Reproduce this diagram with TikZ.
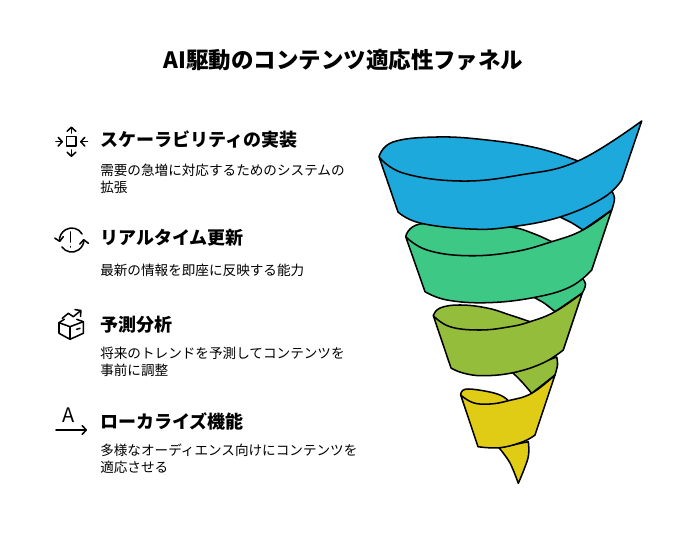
\documentclass[tikz,border=0pt]{standalone}
\usepackage{fontspec}
\setmainfont{Noto Sans CJK JP}
\usetikzlibrary{arrows.meta}
\definecolor{funnelblue}{HTML}{1EA9DC}
\definecolor{funnelgreen}{HTML}{3EC886}
\definecolor{funnelolive}{HTML}{94BD3B}
\definecolor{funnelyellow}{HTML}{E0CC14}
\tikzset{
  band/.style={draw=black,line width=1.15pt,line join=round},
  icon/.style={draw=black,line width=1.15pt,line cap=round,line join=round},
  tip/.style={-{Straight Barb[length=3pt,width=6.5pt,round]}},
  titletext/.style={anchor=center,font=\fontsize{16.85}{20}\selectfont\bfseries,inner sep=0},
  headtext/.style={anchor=west,font=\fontsize{13.5}{16}\selectfont\bfseries,inner sep=0},
  bodytext/.style={anchor=west,align=left,font=\fontsize{10.2}{12.4}\selectfont,inner sep=0}
}
\begin{document}
\begin{tikzpicture}[x=0.75pt,y=-0.75pt]
\useasboundingbox (0,0) rectangle (686,542);
\node[titletext] (title) at (343.5,60) {AI駆動のコンテンツ適応性ファネル};

\node[headtext] (headscale) at (100,140) {スケーラビリティの実装};
\node[bodytext] (bodyscale) at (100,179) {需要の急増に対応するためのシステムの\\拡張};
\node[headtext] (headreal) at (100,238) {リアルタイム更新};
\node[bodytext] (bodyreal) at (100,270) {最新の情報を即座に反映する能力};
\node[headtext] (headpredict) at (100,325) {予測分析};
\node[bodytext] (bodypredict) at (100,362) {将来のトレンドを予測してコンテンツを\\事前に調整};
\node[headtext] (headlocal) at (100,421) {ローカライズ機能};
\node[bodytext] (bodylocal) at (100,459) {多様なオーディエンス向けにコンテンツを\\適応させる};

% scale icon
\draw[icon] (66.7,136.7) rectangle (76,146);
\draw[icon,tip] (71.4,133) -- (71.4,126.5);
\draw[icon,tip] (71.4,150) -- (71.4,157);
\draw[icon,tip] (56,141.7) -- (63,141.7);
\draw[icon,tip] (87.5,141.7) -- (80,141.7);

% realtime icon
\draw[icon,tip] (82.1,234) arc[start angle=30,end angle=190,radius=9pt];
\draw[icon,tip] (61.9,246.9) arc[start angle=215,end angle=365,radius=9pt];
\draw[icon] (70.5,232) -- (70.5,242);
\draw[icon] (70.5,246.5) -- (70.5,247);

% box icon
\draw[icon] (64.3,319.3) -- (59,322.7) -- (59,333.3) -- (70,339.3) -- (83.3,333.3) -- (83.3,321.7) -- (76.7,319.3);
\draw[icon] (59,322.7) -- (70,326.7) -- (83.3,321.7);
\draw[icon] (70,326.7) -- (70,339.3);
\draw[icon] (76.7,329.3) -- (80,328.3);
\draw[icon,tip] (62.3,318.3) -- (68.3,313.3) -- (73.3,316.7) -- (81.5,310);

% translate icon
\node[font=\fontsize{15}{16}\selectfont,inner sep=0] (letter) at (69,415.5) {A};
\draw[icon,tip] (56,430) -- (87,430);

% lower back pieces and tail
\draw[band,fill=funnelolive] plot[smooth,tension=.6] coordinates {(513,373) (522,382) (531.7,393.3)} -- plot[smooth,tension=.6] coordinates {(555,375) (557.5,365) (556.7,357)} -- cycle;
\draw[band,fill=funnelyellow] plot[smooth,tension=.6] coordinates {(499,447.7) (510,463) (518.3,483.3)} -- plot[smooth,tension=.6] coordinates {(518.3,483.3) (528,458) (528.3,441.7)} -- cycle;

% yellow
\fill[funnelyellow] plot[smooth,tension=.7] coordinates {(460.7,395) (465,389.3) (483,390.7) (500,395) (508.3,400.7)} -- (508,408) -- (490,410) -- (473,408) -- cycle;
\draw[band] plot[smooth,tension=.7] coordinates {(460.7,395) (465,389.3) (483,390.7) (500,395) (508.3,400.7)};
\draw[band,fill=funnelyellow] plot[smooth,tension=.7] coordinates {(460.7,395) (473,402.7) (490,404) (508.3,400.7) (531.7,393.3) (555,375)} -- plot[smooth,tension=.7] coordinates {(535,435) (523,441.7) (500,447.7) (478,446.7)} -- cycle;

% green back
\draw[band,fill=funnelgreen] plot[smooth,tension=.6] coordinates {(533,297) (544,303) (555,311.7)} -- plot[smooth,tension=.6] coordinates {(582.3,293) (585.5,284) (580,275)} -- cycle;

% olive
\fill[funnelolive] plot[smooth,tension=.7] coordinates {(433.3,315.7) (440,308) (460,305) (487,308) (510,315) (530,321.7)} -- (530,330) -- (510,334) -- (480,337) -- (450,333) -- cycle;
\draw[band] plot[smooth,tension=.7] coordinates {(433.3,315.7) (440,308) (460,305) (487,308) (510,315) (530,321.7)};
\draw[band,fill=funnelolive] plot[smooth,tension=.7] coordinates {(433.3,315.7) (450,326.7) (480,330) (510,326.7) (530,321.7) (555,311.7) (582.3,293)} -- plot[smooth,tension=.7] coordinates {(563.3,350) (543,363) (513,372.7) (483,375.7) (463,373) (451,368)} -- cycle;

% blue back
\draw[band,fill=funnelblue] plot[smooth,tension=.6] coordinates {(560,217) (572,223) (583,230)} -- plot[smooth,tension=.6] coordinates {(611.7,210) (614.5,198) (610,188)} -- cycle;

% green
\fill[funnelgreen] plot[smooth,tension=.7] coordinates {(405.7,236.7) (420,224) (470,225) (510,227) (532,233) (551.7,241.7)} -- (551,250) -- (513,260) -- (467,263) -- (427,257) -- cycle;
\draw[band] plot[smooth,tension=.7] coordinates {(405.7,236.7) (420,224) (470,225) (510,227) (532,233) (551.7,241.7)};
\draw[band,fill=funnelgreen] plot[smooth,tension=.7] coordinates {(405.7,236.7) (427,250) (467,255.7) (513,252) (551.7,241.7) (583,230) (611.7,210)} -- plot[smooth,tension=.7] coordinates {(591.7,270) (570,287) (533,297.7) (487,302.7) (447,300) (425,291.7)} -- cycle;

% blue
\fill[funnelblue] plot[smooth,tension=.7] coordinates {(379,156.7) (393,142) (437,137) (487,140) (537,148) (578,161)} -- (578,170) -- (520,184) -- (460,190) -- (403,180) -- cycle;
\draw[band] plot[smooth,tension=.7] coordinates {(379,156.7) (393,142) (437,137) (487,140) (537,148) (578,161)};
\draw[band,fill=funnelblue] plot[smooth,tension=.7] coordinates {(379,156.7) (403,173) (460,181) (520,175) (578,161) (641.7,121)} -- plot[smooth,tension=.7] coordinates {(621.7,180) (603,198) (560,217) (510,227) (470,229) (420,223) (398,212)} -- cycle;
\end{tikzpicture}
\end{document}
